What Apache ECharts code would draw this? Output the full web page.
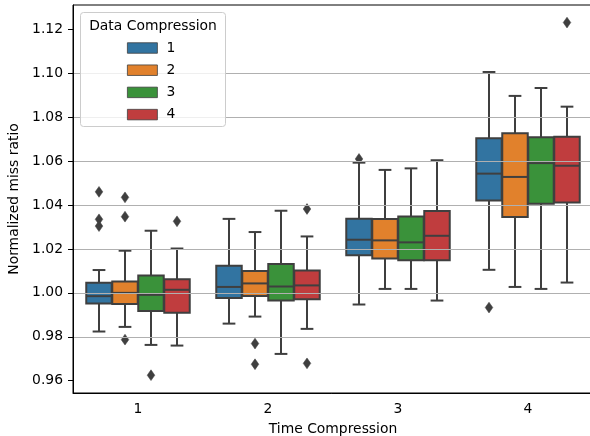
<!DOCTYPE html>
<html>
<head>
<meta charset="utf-8">
<script src="https://cdn.jsdelivr.net/npm/echarts@6/dist/echarts.min.js"></script>
<style>html,body{margin:0;padding:0;background:#fff;}#c{width:590px;height:436px;}</style>
</head>
<body>
<div id="c"></div>
<script>
// Categories (Time Compression) and hues (Data Compression)
const categories = ['1', '2', '3', '4'];
const hues = ['1', '2', '3', '4'];
const hueColors = ['#3274a1', '#e1812c', '#3a923a', '#c03d3e'];
const yTicks = [0.96, 0.98, 1.00, 1.02, 1.04, 1.06, 1.08, 1.10, 1.12];

// Box stats per hue: [min whisker, Q1, median, Q3, max whisker] per category
const stats1 = [
  [0.9824, 0.9952, 0.9985, 1.0046, 1.0104],
  [0.9860, 0.9977, 1.0027, 1.0123, 1.0337],
  [0.9947, 1.0171, 1.0242, 1.0337, 1.0593],
  [1.0105, 1.0421, 1.0543, 1.0704, 1.1006]
];
const stats2 = [
  [0.9845, 0.9949, 1.0000, 1.0052, 1.0192],
  [0.9892, 0.9986, 1.0043, 1.0100, 1.0277],
  [1.0018, 1.0157, 1.0239, 1.0336, 1.0560],
  [1.0027, 1.0345, 1.0528, 1.0727, 1.0897]
];
const stats3 = [
  [0.9763, 0.9917, 0.9991, 1.0079, 1.0283],
  [0.9722, 0.9965, 1.0029, 1.0132, 1.0374],
  [1.0018, 1.0148, 1.0230, 1.0348, 1.0567],
  [1.0018, 1.0406, 1.0591, 1.0709, 1.0933]
];
const stats4 = [
  [0.9760, 0.9909, 1.0014, 1.0062, 1.0202],
  [0.9836, 0.9971, 1.0034, 1.0102, 1.0257],
  [0.9965, 1.0149, 1.0260, 1.0373, 1.0604],
  [1.0047, 1.0412, 1.0579, 1.0711, 1.0848]
];

// Outliers per hue: [category index, value]
const outliers1 = [[0, 1.0460], [0, 1.0335], [0, 1.0304], [2, 1.0610], [3, 0.9933]];
const outliers2 = [[0, 1.0435], [0, 1.0347], [0, 0.9787], [1, 0.9769], [1, 0.9675]];
const outliers3 = [[0, 0.9625]];
const outliers4 = [[0, 1.0326], [1, 1.0382], [1, 0.9679], [3, 1.1231]];

const allStats = [stats1, stats2, stats3, stats4];
const allOutliers = [outliers1, outliers2, outliers3, outliers4];

const EDGE = '#3f3f3f';
const FONT = 'DejaVu Sans';
const LW = 2;

function boxRenderer(h) {
  return function (params, api) {
    const cat = api.value(0);
    const band = api.size([1, 0])[0];
    const cx = api.coord([cat, 0])[0] + (h - 1.5) * band * 0.2;
    const w = band * 0.2 * 0.98;
    const y = (i) => api.coord([cat, api.value(i)])[1];
    const yMin = y(1), yQ1 = y(2), yMed = y(3), yQ3 = y(4), yMax = y(5);
    const cap = w * 0.5;
    const ls = { stroke: EDGE, lineWidth: LW };
    return {
      type: 'group',
      children: [
        { type: 'line', shape: { x1: cx, y1: yQ1, x2: cx, y2: yMin }, style: ls },
        { type: 'line', shape: { x1: cx, y1: yQ3, x2: cx, y2: yMax }, style: ls },
        { type: 'line', shape: { x1: cx - cap / 2, y1: yMin, x2: cx + cap / 2, y2: yMin }, style: ls },
        { type: 'line', shape: { x1: cx - cap / 2, y1: yMax, x2: cx + cap / 2, y2: yMax }, style: ls },
        { type: 'rect', shape: { x: cx - w / 2, y: yQ3, width: w, height: yQ1 - yQ3 },
          style: { fill: hueColors[h], stroke: EDGE, lineWidth: LW } },
        { type: 'line', shape: { x1: cx - w / 2, y1: yMed, x2: cx + w / 2, y2: yMed }, style: ls }
      ]
    };
  };
}

function outlierRenderer(h) {
  return function (params, api) {
    const cat = api.value(0);
    const band = api.size([1, 0])[0];
    const cx = api.coord([cat, 0])[0] + (h - 1.5) * band * 0.2;
    const cy = api.coord([cat, api.value(1)])[1];
    const hw = 3.8, hh = 5.4;
    return {
      type: 'polygon',
      shape: { points: [[cx, cy - hh], [cx + hw, cy], [cx, cy + hh], [cx - hw, cy]] },
      style: { fill: EDGE, stroke: EDGE, lineWidth: 0.5 }
    };
  };
}

const series = [];
hues.forEach((name, h) => {
  series.push({
    type: 'custom',
    name: name,
    renderItem: boxRenderer(h),
    itemStyle: { color: hueColors[h] },
    encode: { x: 0, y: [1, 2, 3, 4, 5] },
    data: allStats[h].map((s, i) => [i].concat(s)),
    z: 2
  });
});
hues.forEach((name, h) => {
  series.push({
    type: 'custom',
    name: 'outliers ' + name,
    renderItem: outlierRenderer(h),
    encode: { x: 0, y: 1 },
    data: allOutliers[h],
    z: 2
  });
});

const chart = echarts.init(document.getElementById('c'), null, { renderer: 'canvas' });
chart.setOption({
  animation: false,
  backgroundColor: '#fff',
  textStyle: { fontFamily: FONT },
  grid: { left: 73, top: 5, right: -3, bottom: 43, containLabel: false, outerBoundsMode: 'none',
    show: true, borderColor: '#000', borderWidth: 1, backgroundColor: 'transparent' },
  xAxis: {
    type: 'category',
    data: categories,
    boundaryGap: true,
    name: 'Time Compression',
    nameLocation: 'middle',
    nameGap: 29,
    nameTextStyle: { fontSize: 13.9, color: '#000', fontFamily: FONT },
    axisLine: { lineStyle: { color: '#000', width: 1 } },
    axisTick: { alignWithLabel: true, length: 5, lineStyle: { color: '#000' } },
    axisLabel: { fontSize: 13.9, color: '#000', margin: 9, fontFamily: FONT },
    splitLine: { show: false }
  },
  yAxis: {
    type: 'value',
    min: 0.9544,
    max: 1.1311,
    splitNumber: 9,
    z: 3,
    name: 'Normalized miss ratio',
    nameLocation: 'middle',
    nameGap: 48,
    nameTextStyle: { fontSize: 13.9, color: '#000', fontFamily: FONT },
    axisLine: { show: true, lineStyle: { color: '#000', width: 1 } },
    axisTick: { show: true, length: 5, lineStyle: { color: '#000' }, customValues: yTicks },
    axisLabel: { fontSize: 13.9, color: '#000', margin: 10, fontFamily: FONT,
      customValues: yTicks,
      formatter: (v) => v.toFixed(2) },
    splitLine: { show: true, showMinLine: false, showMaxLine: false, lineStyle: { color: '#b0b0b0', width: 1 } }
  },
  legend: {
    show: true,
    orient: 'vertical',
    left: 127,
    top: 41,
    itemWidth: 30,
    itemHeight: 10.5,
    itemGap: 8.2,
    padding: 0,
    z: 60,
    textStyle: { fontSize: 13.9, color: '#000', fontFamily: FONT, padding: [0, 0, 0, 4] },
    data: hues.map((n, h) => ({ name: n, icon: 'rect', itemStyle: { color: hueColors[h], borderColor: EDGE, borderWidth: 0.8 } }))
  },
  graphic: [
    { type: 'rect', z: 50, shape: { x: 80.5, y: 12.5, width: 145, height: 114, r: 3 },
      style: { fill: 'rgba(255,255,255,0.8)', stroke: '#cccccc', lineWidth: 1 } },
    { type: 'text', z: 55, x: 153, y: 26,
      style: { text: 'Data Compression', fontSize: 13.9, fontFamily: FONT, fill: '#000', align: 'center', verticalAlign: 'middle' } }
  ],
  series: series
});
</script>
</body>
</html>
